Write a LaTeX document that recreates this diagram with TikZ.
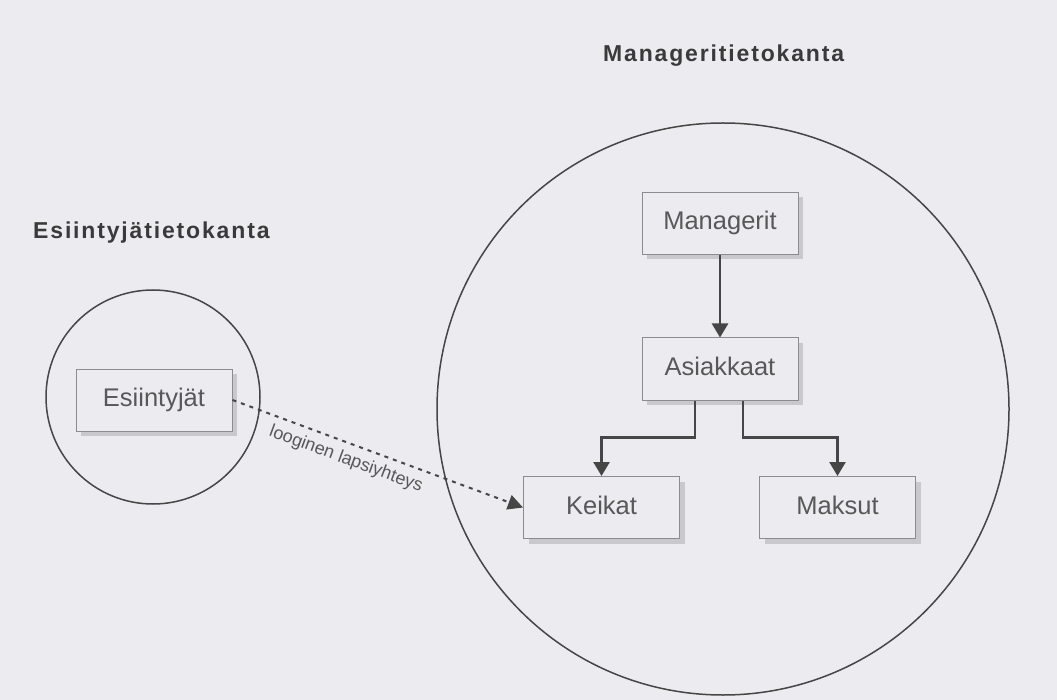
\documentclass[tikz,border=0pt]{standalone}
\usepackage{fontspec}
\setmainfont{Liberation Sans}
\usetikzlibrary{arrows.meta,shadows}

\definecolor{paper}{HTML}{ECECF0}
\definecolor{ink}{HTML}{464646}
\definecolor{boxline}{HTML}{8C8C90}
\definecolor{boxtext}{HTML}{585858}
\definecolor{shade}{HTML}{C9C9CD}
\definecolor{titleink}{HTML}{3A3A3A}

\begin{document}
\begin{tikzpicture}[x=1pt,y=-1pt,
  entity/.style={draw=boxline, line width=1pt, fill=paper,
    minimum width=156pt, minimum height=62pt, inner sep=0pt,
    text height=18pt, text depth=5pt,
    font=\fontsize{25.5}{30}\selectfont, text=boxtext,
    drop shadow={shadow xshift=5pt, shadow yshift=-5pt, fill=shade, opacity=1}},
  dbcircle/.style={circle, draw=ink, line width=1.5pt, inner sep=0pt},
  dbtitle/.style={anchor=base west, inner sep=0pt, text=titleink,
    font=\fontsize{23}{28}\selectfont\bfseries\addfontfeatures{LetterSpace=8}},
  link/.style={draw=ink, line width=2.5pt,
    -{Triangle[width=16pt,length=14pt]}},
  weaklink/.style={draw=ink, line width=2pt, dash pattern=on 4pt off 5pt,
    -{Triangle[width=15pt,length=15pt]}},
  linklabel/.style={font=\fontsize{18}{21}\selectfont, text=boxtext, inner sep=7pt}
]
  % page
  \useasboundingbox[fill=paper] (0,0) rectangle (1057,700);

  % the two databases
  \node[dbcircle, minimum size=214pt] (esdb) at (153,397) {};
  \node[dbcircle, minimum size=572pt] (mgdb) at (723,409) {};

  \node[dbtitle] (estitle) at (33,238.3) {Esiintyjätietokanta};
  \node[dbtitle] (mgtitle) at (603,62) {Manageritietokanta};

  % tables
  \node[entity] (es)  at (154,400)   {Esiintyjät};
  \node[entity] (man) at (720,223.5) {Managerit};
  \node[entity] (asi) at (720,369)   {Asiakkaat};
  \node[entity] (kei) at (601.5,507.5) {Keikat};
  \node[entity] (mak) at (837.5,507.5) {Maksut};

  % parent-child links
  \draw[link] (man.south) -- (asi.north);
  \draw[link] ([xshift=-25pt]asi.south) -- ++(0,37) -| (kei.north);
  \draw[link] ([xshift=23pt]asi.south) -- ++(0,37) -| (mak.north);

  % logical link between the databases
  \draw[weaklink] (es.east) -- node[linklabel, sloped, below, pos=0.41] {looginen lapsiyhteys} (kei.west);
\end{tikzpicture}
\end{document}
